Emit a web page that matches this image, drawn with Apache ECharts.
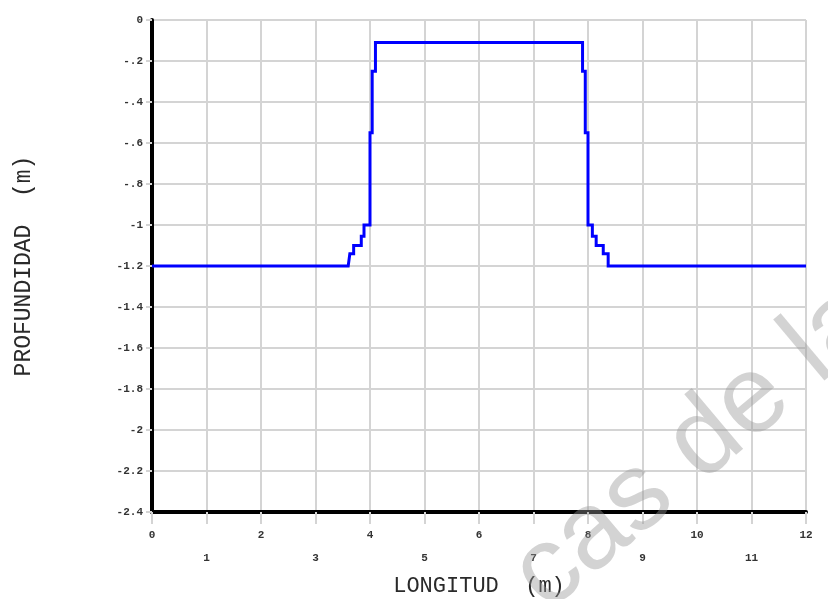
<!DOCTYPE html>
<html>
<head>
<meta charset="utf-8">
<script src="https://cdn.jsdelivr.net/npm/echarts@6/dist/echarts.min.js"></script>
<style>
  html, body { margin: 0; padding: 0; background: #fff; overflow: hidden; }
  #chart { width: 828px; height: 599px; }
</style>
</head>
<body>
<div id="chart"></div>
<script>
// Cross-section profile: horizontal distance (m) and depth (m)
const longitud = [0, 3.6, 3.63, 3.63, 3.7, 3.7, 3.84, 3.84, 3.89, 3.89, 4.0, 4.0, 4.04, 4.04, 4.1, 4.1,
                  7.9, 7.9, 7.95, 7.95, 8.0, 8.0, 8.08, 8.08, 8.15, 8.15, 8.28, 8.28, 8.37, 8.37, 12];
const profundidad = [-1.2, -1.2, -1.2, -1.14, -1.14, -1.1, -1.1, -1.055, -1.055, -1.0, -1.0, -0.55, -0.55, -0.25, -0.25, -0.11,
                     -0.11, -0.25, -0.25, -0.55, -0.55, -1.0, -1.0, -1.055, -1.055, -1.1, -1.1, -1.14, -1.14, -1.2, -1.2];

const xTicks = [0, 1, 2, 3, 4, 5, 6, 7, 8, 9, 10, 11, 12];
const yTicks = [0, -0.2, -0.4, -0.6, -0.8, -1, -1.2, -1.4, -1.6, -1.8, -2, -2.2, -2.4];

const mono = '"Liberation Mono", "DejaVu Sans Mono", monospace';

const chart = echarts.init(document.getElementById('chart'));

function fmtDepth(v) {
  const s = String(Math.round(v * 10) / 10);
  return s.replace('-0.', '-.');
}

chart.setOption({
  animation: false,
  backgroundColor: '#fff',
  grid: { left: 152, right: 22, top: 20, bottom: 87, containLabel: false, outerBoundsMode: 'none' },
  xAxis: {
    type: 'value',
    min: xTicks[0],
    max: xTicks[xTicks.length - 1],
    interval: 1,
    name: 'LONGITUD  (m)',
    nameLocation: 'middle',
    nameGap: 57,
    nameTextStyle: { fontFamily: mono, fontSize: 22, color: '#2a2a2a' },
    axisLine: { onZero: false, lineStyle: { color: '#000', width: 4 } },
    axisTick: { show: true, length: 12, lineStyle: { color: '#d4d4d4', width: 2 } },
    splitLine: { show: true, lineStyle: { color: '#d4d4d4', width: 2 } },
    axisLabel: {
      fontFamily: mono, fontSize: 11, fontWeight: 'bold', color: '#333',
      margin: 12, lineHeight: 23,
      showMinLabel: true, showMaxLabel: true,
      formatter: v => (v % 2 === 1 ? '\n' + v : String(v))
    }
  },
  yAxis: {
    type: 'value',
    min: yTicks[yTicks.length - 1],
    max: yTicks[0],
    interval: 0.2,
    name: 'PROFUNDIDAD  (m)',
    nameLocation: 'middle',
    nameGap: 117,
    nameRotate: 90,
    nameTextStyle: { fontFamily: mono, fontSize: 23, color: '#2a2a2a' },
    axisLine: { onZero: false, lineStyle: { color: '#000', width: 4 } },
    axisTick: { show: true, length: 6, lineStyle: { color: '#d4d4d4', width: 2 } },
    splitLine: { show: true, lineStyle: { color: '#d4d4d4', width: 2 } },
    axisLabel: {
      fontFamily: mono, fontSize: 11, fontWeight: 'bold', color: '#333',
      margin: 9, formatter: fmtDepth
    }
  },
  series: [{
    type: 'line',
    data: longitud.map((x, i) => [x, profundidad[i]]),
    showSymbol: false,
    lineStyle: { color: '#0000ff', width: 3, join: 'miter' },
    z: 5
  }],
  graphic: [{
    type: 'text',
    x: 563,
    y: 632,
    rotation: 40 * Math.PI / 180,
    z: 100,
    style: {
      text: 'cas de la',
      font: '110px "Liberation Sans", Arial, sans-serif',
      fill: 'rgba(150,150,150,0.42)',
      textVerticalAlign: 'bottom'
    }
  }]
});
</script>
</body>
</html>
